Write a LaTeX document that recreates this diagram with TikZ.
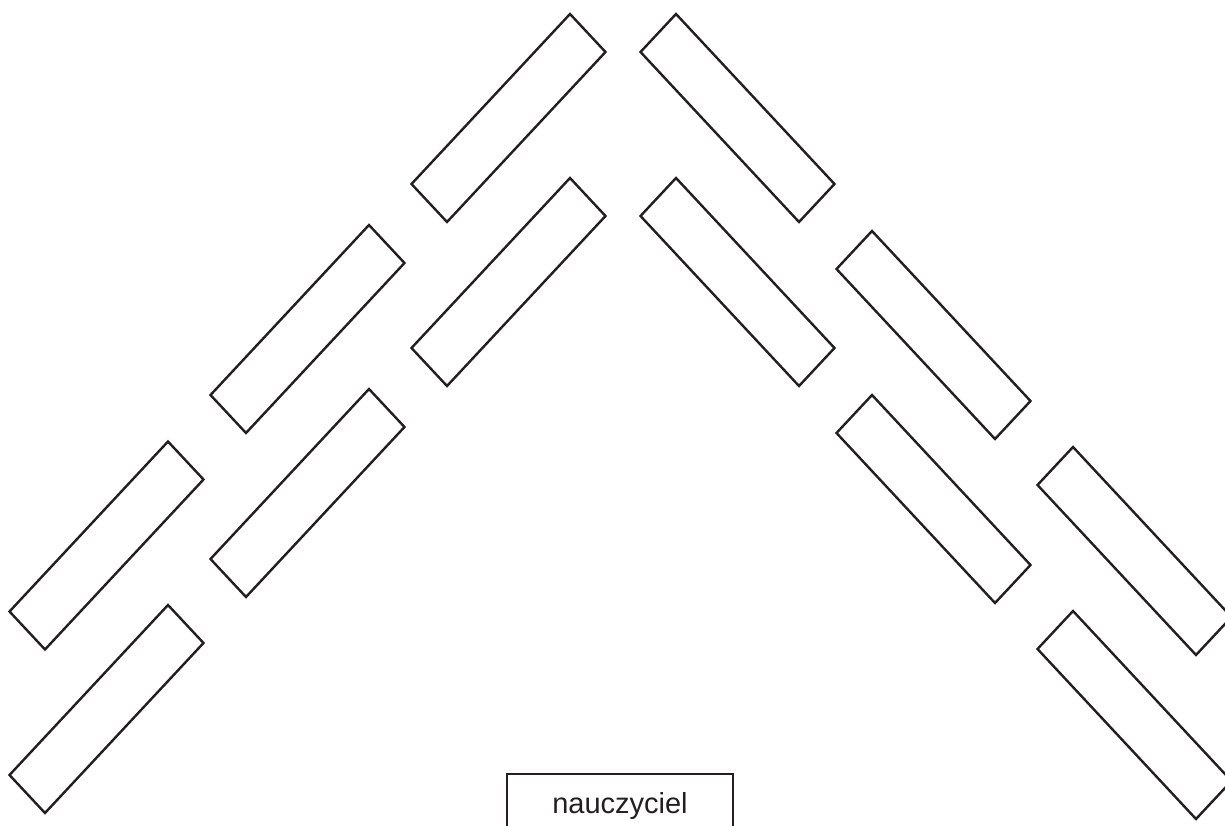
\documentclass[tikz,border=0pt]{standalone}
\usepackage{fontspec}
\setmainfont{Liberation Sans}
\usepackage{tikz}
\usetikzlibrary{
	positioning,
	calc
}
\usepackage{xcolor}
\definecolor{ink}{HTML}{231F20}

\tikzset{
	desk/.style={draw=ink, line width=2.4pt, line join=miter},
	teacherbox/.style={draw=ink, line width=2.4pt}
}

\begin{document}
\begin{tikzpicture}[x=1pt, y=-1pt]
		
		% Frame
		\useasboundingbox (0,0) rectangle (1225,826);
		\clip (0,0) rectangle (1225,826);
		
		% Left wing desks (top corner of each)
		\foreach \tx/\ty in {570/14, 570/178, 369/225, 369/389, 168/441.5, 168/605}
		\draw[desk] (\tx,\ty) -- ++(35.5,38) -- ++(-158.5,170) -- ++(-35.5,-38) -- cycle;
		
		% Right wing desks
		\foreach \tx/\ty in {676/14, 676/178, 872/231, 872/395, 1073/447, 1073/611}
		\draw[desk] (\tx,\ty) -- ++(-35.5,38) -- ++(158.5,170) -- ++(35.5,-38) -- cycle;
		
		% Teacher
		\draw[teacherbox] (507,774) rectangle (733,870);
		\node[anchor=base, inner sep=0pt, text=ink, font=\fontsize{29}{34}\selectfont]
		(teacher) at (620,813) {nauczyciel};
		
	\end{tikzpicture}
\end{document}
